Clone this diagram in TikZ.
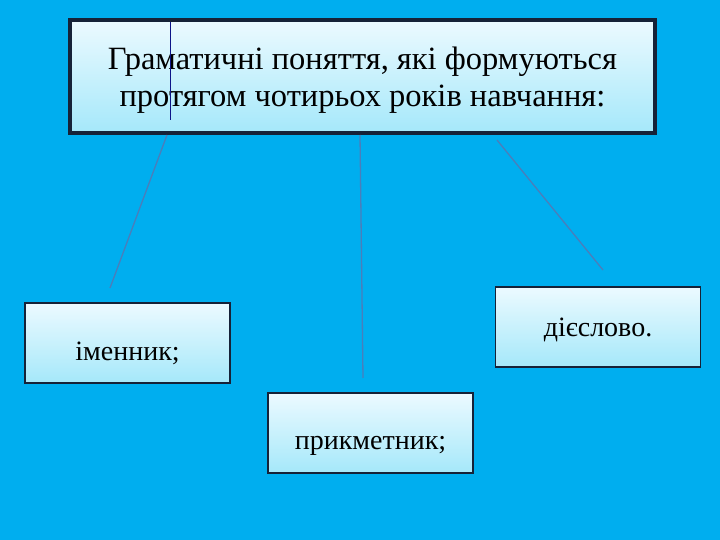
\documentclass[tikz,border=0pt]{standalone}
\usepackage{fontspec}
\setmainfont{Liberation Serif}
\usetikzlibrary{positioning,calc}
\definecolor{slidebg}{RGB}{0,174,239}
\definecolor{linkblue}{RGB}{74,126,187}
\definecolor{boxtop}{RGB}{236,250,255}
\definecolor{boxbot}{RGB}{165,232,250}
\definecolor{frame}{RGB}{22,34,56}
\begin{document}
\begin{tikzpicture}[x=1pt, y=-1pt, box/.style={draw=frame, line width=2pt, top color=boxtop, bottom color=boxbot, minimum width=205pt, minimum height=80pt, inner sep=0pt, text depth=0pt, font=\fontsize{28}{32}\selectfont}, link/.style={draw=linkblue, line width=1.3pt}]
\useasboundingbox (0,0) rectangle (720,540);
\fill[slidebg] (0,0) rectangle (720,540);
\node[box, line width=3.2pt, minimum width=585pt, minimum height=113pt, align=center, text height=61pt, font=\fontsize{32.5}{37}\selectfont] (topic) at (362.5,76.5) {Граматичні поняття, які формуються\\протягом чотирьох років навчання:};
\coordinate (mark0) at (170,22);
\coordinate (mark1) at (170,120);
\draw[frame!60!blue, line width=0.7pt] (mark0) -- (mark1);
\node[box, line width=2.6pt, text height=34pt] (noun) at (127.5,343) {іменник;};
\node[box, line width=1.4pt, text height=18pt] (verb) at (598,327) {дієслово.};
\node[box, text height=32pt] (adj) at (370.5,433) {прикметник;};
% connectors (free ends)
\coordinate (n0) at (167,135);
\coordinate (n1) at (110,288);
\coordinate (a0) at (360,135);
\coordinate (a1) at (363,378);
\coordinate (v0) at (497,140);
\coordinate (v1) at (603,270);
\draw[link] (n0) -- (n1);
\draw[link] (a0) -- (a1);
\draw[link] (v0) -- (v1);
\end{tikzpicture}
\end{document}
